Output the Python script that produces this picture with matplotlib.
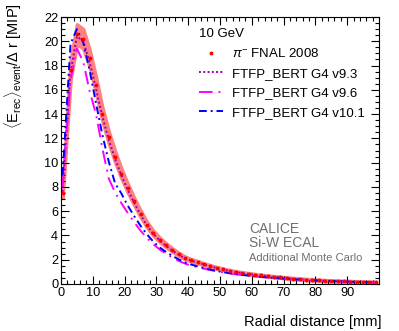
import numpy as np
import matplotlib
matplotlib.use("Agg")
import matplotlib.pyplot as plt
import matplotlib.ticker as ticker

plt.rcParams["font.family"] = ["Liberation Sans", "DejaVu Sans"]
plt.rcParams["mathtext.fontset"] = "custom"
plt.rcParams["mathtext.rm"] = "Liberation Sans"
plt.rcParams["mathtext.it"] = "Liberation Sans:italic"
plt.rcParams["mathtext.sf"] = "Liberation Sans"

# radial bin centres [mm]
r = [0.5, 3, 5, 7, 9, 11, 13, 15, 17, 19, 21, 23, 25, 27, 29, 31, 33, 35, 37, 39,
     41, 43, 45, 47, 49, 51, 53, 55, 57, 59, 61, 63, 65, 67, 69, 71, 73, 75, 77, 79,
     81, 83, 85, 87, 89, 91, 93, 95, 97, 99]

# pi- FNAL 2008 data and its error
data = [7.5, 17.6, 20.6, 20.2, 18.6, 16.4, 14.0, 12.1, 10.5, 9.1, 7.9, 6.8, 5.8, 4.9, 4.2,
        3.65, 3.2, 2.8, 2.45, 2.15, 1.95, 1.8, 1.62, 1.47, 1.33, 1.2, 1.1, 1.0, 0.92, 0.85,
        0.78, 0.72, 0.66, 0.6, 0.55, 0.5, 0.45, 0.41, 0.37, 0.34, 0.31, 0.28, 0.26, 0.24,
        0.22, 0.2, 0.18, 0.17, 0.15, 0.14]
data_err = [0.4, 0.8, 0.8, 0.8, 0.7, 0.65, 0.55, 0.5, 0.45, 0.4, 0.35, 0.3, 0.26, 0.23, 0.2,
            0.18, 0.16, 0.14, 0.12, 0.11, 0.1, 0.09, 0.08, 0.08, 0.07, 0.07, 0.06, 0.06,
            0.05, 0.05, 0.05, 0.05, 0.05, 0.05, 0.05, 0.05, 0.05, 0.05, 0.05, 0.05, 0.05,
            0.05, 0.05, 0.05, 0.05, 0.05, 0.05, 0.05, 0.05, 0.05]

# Monte Carlo
g4_93 = [7.6, 17.4, 20.4, 20.0, 18.3, 16.1, 13.8, 11.9, 10.3, 8.95, 7.75, 6.7, 5.7, 4.82,
         4.13, 3.6, 3.15, 2.76, 2.41, 2.12, 1.92, 1.77, 1.6, 1.45, 1.31, 1.18, 1.08, 0.98,
         0.9, 0.83, 0.76, 0.7, 0.64, 0.59, 0.54, 0.49, 0.44, 0.4, 0.36, 0.33, 0.3, 0.27,
         0.25, 0.23, 0.21, 0.19, 0.18, 0.16, 0.15, 0.14]
g4_96 = [8.0, 16.8, 19.4, 18.3, 15.9, 14.0, 11.2, 8.7, 7.55, 6.65, 5.85, 5.1, 4.4, 3.8,
         3.28, 2.85, 2.5, 2.18, 1.91, 1.68, 1.5, 1.39, 1.26, 1.15, 1.05, 0.95, 0.88, 0.8,
         0.74, 0.69, 0.63, 0.59, 0.54, 0.5, 0.46, 0.425, 0.39, 0.36, 0.325, 0.3, 0.28,
         0.26, 0.24, 0.22, 0.2, 0.185, 0.17, 0.155, 0.14, 0.13]
g4_101 = [9.0, 19.8, 21.0, 19.9, 17.6, 14.9, 12.3, 10.1, 8.3, 7.45, 6.45, 5.6, 4.8, 4.1,
          3.5, 3.02, 2.65, 2.32, 2.03, 1.78, 1.6, 1.45, 1.3, 1.18, 1.07, 0.97, 0.89, 0.81,
          0.75, 0.69, 0.63, 0.59, 0.54, 0.5, 0.46, 0.42, 0.39, 0.36, 0.33, 0.3, 0.28, 0.26,
          0.24, 0.22, 0.2, 0.185, 0.17, 0.155, 0.14, 0.13]

fig = plt.figure(figsize=(3.99, 3.31), dpi=100)
ax = fig.add_axes([61 / 399, 1 - 284 / 331, 318 / 399, 267 / 331])

d = np.array(data)
e = np.array(data_err)

# error band, drawn with a thick edge so it looks like the ROOT one
ax.fill_between(r, d - e, d + e, facecolor="#ff8080", edgecolor="#ff8080",
                linewidth=2.5, zorder=1)

l93, = ax.plot(r, g4_93, color="#9a00b0", ls=(0, (1, 1.2)), lw=1.4, zorder=2,
               label="FTFP_BERT G4 v9.3")
l96, = ax.plot(r, g4_96, color="#ff00ff", ls=(0, (7, 3, 1, 3)), lw=1.4, zorder=3,
               label="FTFP_BERT G4 v9.6")
l101, = ax.plot(r, g4_101, color="#0000ff", ls=(0, (4, 2, 1, 2)), lw=1.4, zorder=3,
                label="FTFP_BERT G4 v10.1")
pts, = ax.plot(r, data, "o", color="#ff0000", ms=2.8, mew=0, zorder=4,
               label=r"$\pi^{-}$ FNAL 2008")

ax.set_xlim(0, 100)
ax.set_ylim(0, 22)
ax.xaxis.set_major_locator(ticker.FixedLocator(np.arange(0, 100, 10)))
ax.xaxis.set_minor_locator(ticker.MultipleLocator(2))
ax.yaxis.set_major_locator(ticker.MultipleLocator(2))
ax.yaxis.set_minor_locator(ticker.MultipleLocator(0.5))
ax.tick_params(which="both", direction="in", top=True, right=True, labelsize=9.2,
               width=0.8)
ax.tick_params(which="major", length=6, pad=2)
ax.tick_params(which="minor", length=3)
for s in ax.spines.values():
    s.set_linewidth(0.8)

leg = ax.legend(handles=[pts, l93, l96, l101], title="10 GeV", frameon=False,
                loc="upper left", bbox_to_anchor=(199 / 399, 1 - 28 / 331),
                bbox_transform=fig.transFigure, borderpad=0, borderaxespad=0,
                handlelength=1.8, handletextpad=0.7, labelspacing=0.55,
                fontsize=9.5, title_fontsize=9.5, alignment="left")

ax.text(249 / 399, 1 - 229 / 331, "CALICE", transform=fig.transFigure,
        color="#707070", fontsize=10, va="center")
ax.text(249 / 399, 1 - 243 / 331, "Si-W ECAL", transform=fig.transFigure,
        color="#707070", fontsize=10, va="center")
ax.text(249 / 399, 1 - 258 / 331, "Additional Monte Carlo", transform=fig.transFigure,
        color="#707070", fontsize=8, va="center")

fig.text(382 / 399, 1 - 322 / 331, "Radial distance [mm]", ha="right", va="center",
         fontsize=10.5)
fig.text(13 / 399, 1 - 3 / 331,
         r"$\langle\mathrm{E}_{\mathrm{rec}}\rangle_{\mathrm{event}}/\Delta\ \mathrm{r}$ [MIP]",
         rotation=90, ha="center", va="top", fontsize=10.5)

fig.savefig("out.png", dpi=100)
